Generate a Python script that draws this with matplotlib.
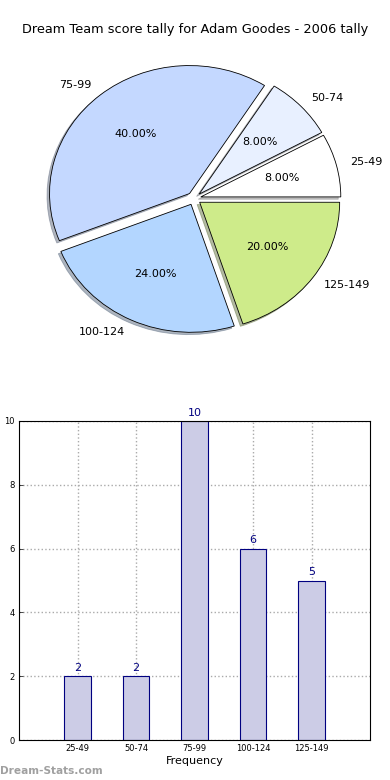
import numpy as np
import matplotlib
matplotlib.use("Agg")
import matplotlib.pyplot as plt

# data
ranges = ["25-49", "50-74", "75-99", "100-124", "125-149"]
counts = [2, 2, 10, 6, 5]
pie_colors = ["#ffffff", "#e8f0ff", "#c4d8ff", "#b3d6ff", "#ceeb8a"]
explode = [0.05, 0.05, 0.05, 0.05, 0.05]
yticks = [0, 2, 4, 6, 8, 10]

W, H = 390, 780
fig = plt.figure(figsize=(W / 100, H / 100), dpi=100)

# pie chart (slightly squashed, like the original), placed in pixel terms
cx, cy, rx, ry, span = 194, 198.5, 140, 128, 1.4
ax1 = fig.add_axes([(cx - span * rx) / W, (H - cy - span * ry) / H,
                    2 * span * rx / W, 2 * span * ry / H])
wedges, texts, autotexts = ax1.pie(
    counts, labels=ranges, colors=pie_colors, explode=explode,
    autopct="%1.2f%%", startangle=0, labeldistance=1.1, pctdistance=0.6,
    shadow=dict(ox=-0.013, oy=-0.013, shade=0.5),
    wedgeprops=dict(edgecolor="black", linewidth=0.6),
    textprops=dict(fontsize=8))
ax1.set_xlim(-span, span)
ax1.set_ylim(-span, span)
ax1.set_aspect("auto")
ax1.axis("off")
fig.text(0.5, 1 - 30 / H, "Dream Team score tally for Adam Goodes - 2006 tally",
         ha="center", va="center", fontsize=9.3)

# bar chart
ax2 = fig.add_axes([19 / W, 40 / H, (370 - 19) / W, (740 - 421) / H])
x = np.arange(1, len(ranges) + 1)
bars = ax2.bar(x, counts, width=0.45, color="#ccccE6", edgecolor="#000080",
               linewidth=0.8, zorder=2)
for xi, c in zip(x, counts):
    ax2.text(xi, c + 0.1, str(c), ha="center", va="bottom", fontsize=8,
             color="#000080")
ax2.set_xlim(0, 6)
ax2.set_ylim(0, 10)
ax2.set_xticks(x)
ax2.set_xticklabels(ranges, fontsize=6)
ax2.set_yticks(yticks)
ax2.set_yticklabels([str(t) for t in yticks], fontsize=6)
ax2.tick_params(direction="in", length=3, width=0.5, pad=3)
ax2.grid(True, linestyle=":", color="#aaaaaa", linewidth=1, zorder=0)
ax2.set_axisbelow(True)
ax2.set_xlabel("Frequency", fontsize=8, labelpad=2)
ax2.set_ylabel("Occurrences", fontsize=6, labelpad=8)
for s in ax2.spines.values():
    s.set_linewidth(0.8)

fig.text(0.0, 1 - 771 / H, "Dream-Stats.com", ha="left", va="center",
         fontsize=7.6, color="#a0a0a0", fontweight="bold")

fig.savefig("out.png", dpi=100)
